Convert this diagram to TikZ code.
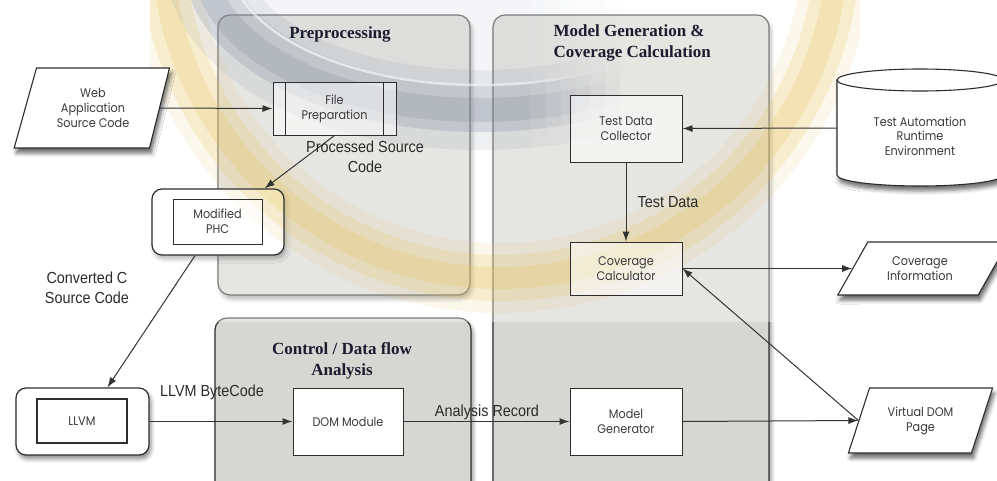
\documentclass[tikz,border=0pt]{standalone}
\usepackage{fontspec}
\setmainfont{Liberation Serif}
\newfontfamily\boxfont[FakeStretch=0.9]{Poppins}
\newfontfamily\lblfont[FakeStretch=0.9]{Liberation Sans}
\newfontfamily\ttlfont{Liberation Serif}
\usetikzlibrary{shapes.geometric,arrows.meta,shadows.blur}

\definecolor{edgec}{HTML}{2E2E2E}
\definecolor{linec}{HTML}{333333}
\definecolor{grpfill}{HTML}{D6D6D2}
\definecolor{boxtext}{HTML}{3A3A3A}
\definecolor{lblc}{HTML}{2A2A2A}
\definecolor{ttlc}{HTML}{1C1C2E}
\definecolor{logogray}{HTML}{7F889A}
\definecolor{logoyellow}{HTML}{E6C45A}

\begin{document}
\begin{tikzpicture}[x=1pt,y=-1pt,
  shdw/.style={blur shadow={shadow xshift=2pt,shadow yshift=-4pt,shadow blur radius=4pt,shadow opacity=45}},
  grp/.style={draw=edgec,line width=1.2pt,fill=grpfill,rounded corners=12pt,shdw},
  ttl/.style={font=\ttlfont\bfseries\fontsize{17}{21.5}\selectfont,text=ttlc},
  box/.style={draw=edgec,line width=1pt,fill=white,font=\boxfont\fontsize{12.5}{15}\selectfont,
    text=boxtext,align=center,inner sep=0pt},
  tinted/.style={fill opacity=0.55,text opacity=1},
  shellbg/.style={fill=white,rounded corners=10pt,shdw,inner sep=0pt},
  shell/.style={draw=edgec,line width=1.2pt,rounded corners=10pt,inner sep=0pt},
  para/.style={trapezium,trapezium stretches=true,draw=edgec,line width=1.1pt,fill=white,
    blur shadow={shadow xshift=2pt,shadow yshift=-5pt,shadow blur radius=4pt,shadow opacity=60},
    font=\boxfont\fontsize{12.5}{15}\selectfont,text=boxtext,align=center,inner sep=0pt},
  lbl/.style={font=\lblfont\fontsize{16}{19.5}\selectfont,text=lblc,align=center},
  conn/.style={draw=linec,line width=1pt,-{Latex[length=10pt,width=7pt]}}
]
\useasboundingbox (0,0) rectangle (997,480);

% stage containers
\node[grp,minimum width=252pt,minimum height=280pt] (pre) at (344,155) {};
\node[grp,minimum width=276pt,minimum height=480pt] (mgc) at (631,255) {};
\node[grp,minimum width=256pt,minimum height=177pt] (cdf) at (343,406.5) {};

% backgrounds of the rounded tool frames
\node[shellbg,minimum width=132pt,minimum height=66pt] (phcbg) at (218,222) {};
\node[shellbg,minimum width=133pt,minimum height=67pt] (llvmbg) at (82.5,421.5) {};

% faded emblem behind the upper stages
\begin{scope}
  \clip (150,0) rectangle (860,322);
  \fill[white,opacity=0.37] (150,0) rectangle (860,322);
  \draw[logoyellow,line width=70pt,opacity=0.12] (500,-60) circle[radius=338];
  \draw[logoyellow,line width=46pt,opacity=0.2] (500,-60) circle[radius=338];
  \draw[logoyellow,line width=22pt,opacity=0.22] (500,-60) circle[radius=338];
\end{scope}
% grey swirl, dying out towards the right
\foreach \xa/\xb/\f in {150/530/1,530/545/0.85,545/560/0.7,560/575/0.55,575/590/0.4,590/605/0.25,605/620/0.12}{
  \pgfmathsetmacro\oa{0.08*\f}
  \pgfmathsetmacro\ob{0.12*\f}
  \pgfmathsetmacro\oc{0.24*\f}
  \pgfmathsetmacro\od{0.22*\f}
  \pgfmathsetmacro\oe{0.6*\f}
  \begin{scope}
    \clip (\xa,0) rectangle (\xb,322);
    \fill[logogray,opacity=\oa] (480,-40) ellipse[x radius=250,y radius=125];
    \draw[logogray,line width=80pt,opacity=\ob] (480,-40) ellipse[x radius=275,y radius=150];
    \draw[logogray,line width=48pt,opacity=\oc] (480,-40) ellipse[x radius=273,y radius=148];
    \draw[logogray,line width=24pt,opacity=\od] (480,-40) ellipse[x radius=276,y radius=150];
    \draw[white,line width=2.5pt,opacity=\oe] (480,-40) ellipse[x radius=250,y radius=125];
  \end{scope}
}

\node[ttl] (preT) at (340,34) {Preprocessing};
\node[ttl,align=left,anchor=west] (mgcT) at (550,43) {Model Generation \&\\Coverage Calculation};
\node[ttl,align=center] (cdfT) at (342,361) {Control / Data flow\\Analysis};

% inputs and outputs
\node[para,trapezium left angle=70,trapezium right angle=108,minimum width=156pt,minimum height=80pt]
  (web) at (93,108) {Web\\Application\\Source Code};
\node[para,trapezium left angle=56,trapezium right angle=124,minimum width=172pt,minimum height=53pt]
  (ci) at (923,268.5) {\hspace*{-6pt}Coverage\\\hspace*{-6pt}Information};
\node[para,trapezium left angle=64,trapezium right angle=116,minimum width=145pt,minimum height=65pt]
  (vdp) at (920.5,420.5) {Virtual DOM\\Page};

% runtime environment (cylinder)
\path[draw=edgec,line width=1.1pt,fill=white,
    blur shadow={shadow xshift=2pt,shadow yshift=-5pt,shadow blur radius=4pt,shadow opacity=55}]
  (837,80) -- (837,175) .. controls (837,181.1) and (874.2,186) .. (920,186)
  .. controls (965.8,186) and (1003,181.1) .. (1003,175) -- (1003,80) -- cycle;
\draw[edgec,line width=1.1pt,fill=white] (920,80) ellipse [x radius=83,y radius=11];
\node[font=\boxfont\fontsize{12.5}{14.5}\selectfont,text=boxtext,align=center] (tare) at (920,136)
  {Test Automation\\Runtime\\Environment};
\coordinate (tareW) at (837,128);

% processing steps
\node[box,tinted,minimum width=123pt,minimum height=53pt] (fp) at (334.5,108.5) {File\\Preparation};
\draw[edgec,line width=1pt] ([xshift=13pt]fp.north west) -- ([xshift=13pt]fp.south west)
  ([xshift=-13pt]fp.north east) -- ([xshift=-13pt]fp.south east);

\node[shell,minimum width=132pt,minimum height=66pt] (phc) at (218,222) {};
\node[box,tinted,minimum width=89pt,minimum height=45pt] (phcin) at (217.5,221.5) {Modified\\PHC};

\node[shell,minimum width=133pt,minimum height=67pt] (llvm) at (82.5,421.5) {};
\node[box,line width=1.3pt,minimum width=90pt,minimum height=44pt] (llvmin) at (82,421) {LLVM};

\node[box,minimum width=110pt,minimum height=67pt] (dom) at (348,421.5) {DOM Module};
\node[box,minimum width=112pt,minimum height=67pt] (mg) at (626,421.5) {Model\\Generator};
\node[box,tinted,minimum width=112pt,minimum height=53pt] (cc) at (626,268.5) {Coverage\\Calculator};
\node[box,tinted,minimum width=112pt,minimum height=67pt] (tdc) at (626,128.5) {Test Data\\Collector};

% data flow
\draw[conn] (web.right side) -- (fp.west);
\draw[conn] (fp.south) -- ([xshift=-20pt]phc.north east);
\draw[conn] ([xshift=-23pt]phc.south) -- ([xshift=25pt]llvm.north);
\draw[conn] (llvm.east) -- (dom.west);
\draw[conn] (dom.east) -- (mg.west);
\draw[conn] (mg.east) -- (vdp.left side);
\draw[conn] (vdp.left side) -- (cc.east);
\draw[conn] (cc.east) -- (ci.left side);
\draw[conn] (tdc.south) -- (cc.north);
\draw[conn] (tareW) -- (tdc.east);

\node[lbl] (lPSC) at (365,157) {Processed Source\\Code};
\node[lbl] (lCCS) at (87,288) {Converted C\\Source Code};
\node[lbl] (lLBC) at (212,392) {LLVM ByteCode};
\node[lbl] (lAR) at (487,412) {Analysis Record};
\node[lbl] (lTD) at (668,202) {Test Data};
\end{tikzpicture}
\end{document}
